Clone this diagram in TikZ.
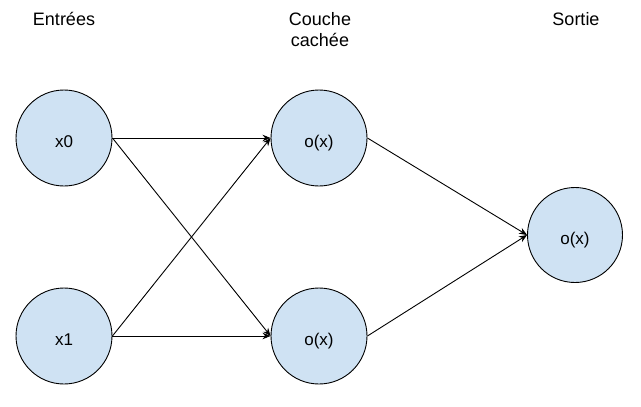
\documentclass[tikz,border=0pt]{standalone}
\usepackage{fontspec}
\setmainfont{Liberation Sans}
\usetikzlibrary{arrows.meta}
\definecolor{nodefill}{HTML}{CFE2F3}
\begin{document}
\begin{tikzpicture}[x=1pt,y=-1pt,
  neuron/.style={circle,draw=black,fill=nodefill,line width=0.9pt,minimum size=96pt,inner sep=0pt,
    text height=18pt,text depth=0pt,font=\fontsize{17}{20}\selectfont},
  header/.style={align=center,anchor=base,font=\fontsize{18}{21}\selectfont},
  conn/.style={draw=black,line width=0.9pt,-{Stealth[length=8pt,width=6.5pt]}}]
\useasboundingbox (0,0) rectangle (641,407);
\node[neuron] (x0) at (64,138) {x0};
\node[neuron] (x1) at (64,336) {x1};
\node[neuron] (h0) at (319,138) {o(x)};
\node[neuron] (h1) at (319,336) {o(x)};
\node[neuron,minimum size=95pt] (out) at (575,235) {o(x)};
\node[header] (t1) at (64,25.7) {Entrées};
\node[header] (t2) at (320,46.7) {Couche\\cachée};
\node[header] (t3) at (576,25.7) {Sortie};
\draw[conn] (x0.east) -- (h0.west);
\draw[conn] (x0.east) -- (h1.west);
\draw[conn] (x1.east) -- (h0.west);
\draw[conn] (x1.east) -- (h1.west);
\draw[conn] (h0.east) -- (out.west);
\draw[conn] (h1.east) -- (out.west);
\end{tikzpicture}
\end{document}
